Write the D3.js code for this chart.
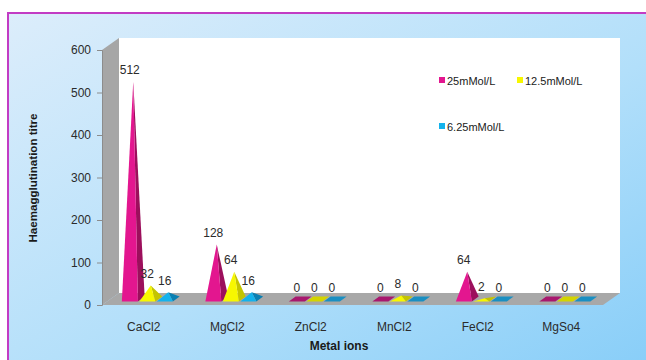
<!DOCTYPE html>
<html>
<head>
<meta charset="utf-8">
<script src="https://cdn.jsdelivr.net/npm/d3@7"></script>
<style>
  html, body { margin: 0; padding: 0; background: #ffffff; }
  svg { display: block; font-family: "Liberation Sans", Arial, sans-serif; }
</style>
</head>
<body>
<svg id="chart" width="646" height="360"></svg>
<script>
// Haemagglutination titre per metal ion at three concentrations
const categories = ["CaCl2", "MgCl2", "ZnCl2", "MnCl2", "FeCl2", "MgSo4"];
const seriesNames = ["25mMol/L", "12.5mMol/L", "6.25mMol/L"];
const conc25 = [512, 128, 0, 0, 64, 0];
const conc12_5 = [32, 64, 0, 8, 2, 0];
const conc6_25 = [16, 16, 0, 0, 0, 0];
const yTicks = [0, 100, 200, 300, 400, 500, 600];

const seriesValues = [conc25, conc12_5, conc6_25];
const palette = [
  { front: "#e3168f", side: "#9c0f5c", flat: "#a8186e" },
  { front: "#f7f700", side: "#c4c400", flat: "#d4d400" },
  { front: "#14b2ec", side: "#0a7fb2", flat: "#1a8fc2" }
];

const svg = d3.select("#chart");
const W = 646, H = 360;

// Frame background
const defs = svg.append("defs");
const grad = defs.append("linearGradient").attr("id", "bg")
  .attr("x1", "0%").attr("y1", "0%").attr("x2", "100%").attr("y2", "100%");
grad.append("stop").attr("offset", "0%").attr("stop-color", "#dcedfb");
grad.append("stop").attr("offset", "55%").attr("stop-color", "#b2dffa");
grad.append("stop").attr("offset", "100%").attr("stop-color", "#86cdf8");

svg.append("rect").attr("x", 8).attr("y", 13).attr("width", 660).attr("height", 360)
  .attr("fill", "url(#bg)").attr("stroke", "#c23cc4").attr("stroke-width", 2);

// 3D geometry: front plane + depth offset
const DX = 17, DY = 12;
const x = d3.scaleBand().domain(categories).range([102, 603]);
const y = d3.scaleLinear().domain([0, 600]).range([305, 50]);
const inner = d3.scaleBand().domain(d3.range(seriesNames.length))
  .range([-26.25 - 1.5, 26.25 - 1.5]);

const P = (px, z, v) => [px + z * DX, y(v) - z * DY];
const poly = pts => "M" + pts.map(p => p.join(",")).join("L") + "Z";

const g = svg.append("g");

// back wall
g.append("path")
  .attr("d", poly([P(102, 1, 600), P(603, 1, 600), P(603, 1, 0), P(102, 1, 0)]))
  .attr("fill", "#ffffff");
// side wall
g.append("path")
  .attr("d", poly([P(102, 0, 600), P(102, 1, 600), P(102, 1, 0), P(102, 0, 0)]))
  .attr("fill", "#a6a6a6");
// floor
g.append("path")
  .attr("d", poly([P(102, 0, 0), P(102, 1, 0), P(603, 1, 0), P(603, 0, 0)]))
  .attr("fill", "#a8a8a8");

// y axis
const yAxis = g.append("g").attr("transform", "translate(102,0)")
  .call(d3.axisLeft(y).tickValues(yTicks).tickSize(5).tickPadding(6));
yAxis.select(".domain").attr("stroke", "#8c8c8c");
yAxis.selectAll(".tick line").attr("stroke", "#8c8c8c");
yAxis.selectAll(".tick text").attr("font-size", 12).attr("fill", "#2b2b2b")
  .attr("font-family", "Liberation Sans, Arial, sans-serif");

// x axis labels
const xAxis = g.append("g").attr("transform", "translate(0,305)")
  .call(d3.axisBottom(x).tickSize(0).tickPadding(17));
xAxis.select(".domain").remove();
xAxis.selectAll(".tick text").attr("font-size", 12).attr("fill", "#2b2b2b")
  .attr("font-family", "Liberation Sans, Arial, sans-serif");

// pyramids
const Z0 = 0.3, Z1 = 0.7, HW = 8;
const marks = [];
categories.forEach((c, i) => {
  seriesValues.forEach((vals, k) => {
    const cx = x(c) + x.bandwidth() / 2 + inner(k) + inner.bandwidth() / 2;
    marks.push({ c, k, v: vals[i], cx });
  });
});

const bars = g.append("g");
marks.forEach(m => {
  const col = palette[m.k];
  const FL = P(m.cx - HW, Z0, 0), FR = P(m.cx + HW, Z0, 0);
  const BR = P(m.cx + HW, Z1, 0), BL = P(m.cx - HW, Z1, 0);
  if (m.v === 0) {
    bars.append("path").attr("d", poly([FL, FR, BR, BL])).attr("fill", col.flat);
  } else {
    const A = P(m.cx, 0.5, m.v);
    bars.append("path").attr("d", poly([FR, BR, A])).attr("fill", col.side);
    bars.append("path").attr("d", poly([FL, FR, A])).attr("fill", col.front);
  }
});

// value labels
g.append("g").selectAll("text").data(marks).join("text")
  .attr("x", d => P(d.cx, 0.5, d.v)[0] - 3.5)
  .attr("y", d => P(d.cx, 0.5, d.v)[1] - 7.5)
  .attr("text-anchor", "middle")
  .attr("font-size", 12).attr("fill", "#2b2b2b")
  .text(d => d.v);

// legend
const legendPos = [[439, 77], [517, 77], [439, 123]];
const legend = g.append("g");
seriesNames.forEach((name, k) => {
  const [lx, ly] = legendPos[k];
  legend.append("rect").attr("x", lx).attr("y", ly).attr("width", 6).attr("height", 6)
    .attr("fill", palette[k].front);
  legend.append("text").attr("x", lx + 8).attr("y", ly + 7.5)
    .attr("font-size", 11).attr("fill", "#1a1a1a").text(name);
});

// axis titles
svg.append("text")
  .attr("transform", "translate(37,178) rotate(-90)")
  .attr("text-anchor", "middle")
  .attr("font-size", 11).attr("font-weight", "bold").attr("fill", "#1a1a1a")
  .attr("textLength", 129).attr("lengthAdjust", "spacingAndGlyphs")
  .text("Haemagglutination titre");

svg.append("text")
  .attr("x", 339).attr("y", 350)
  .attr("text-anchor", "middle")
  .attr("font-size", 12).attr("font-weight", "bold").attr("fill", "#1a1a1a")
  .text("Metal ions");
</script>
</body>
</html>
